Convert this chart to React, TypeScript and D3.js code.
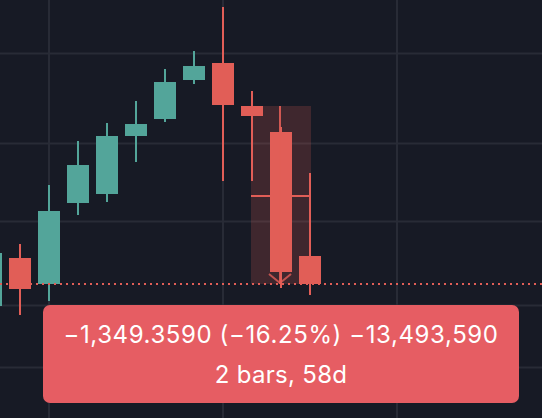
import * as d3 from "d3";

const WIDTH = 542;
const HEIGHT = 418;

// monthly bars (index 0 is partly off the left edge)
const months = ["Jan", "Feb", "Mar", "Apr", "May", "Jun", "Jul", "Aug", "Sep", "Oct", "Nov", "Dec"];
const opens = [6787.5, 7151.4, 6954.3, 7568.4, 7636.6, 8076.3, 8205.1, 8500.8, 8629.7, 8303.7, 8106.6, 7166.6];
const highs = [7287.9, 7257.5, 7704.8, 8038.4, 8174.8, 8341.6, 8584.2, 8720.6, 9054.2, 8417.4, 8144.5, 7795.8];
const lows = [6742.1, 6719.3, 6825.4, 7477.4, 7575.9, 7879.2, 8182.4, 8470.5, 7735.1, 7735.1, 6924.0, 6870.9];
const closes = [7189.3, 6916.4, 7507.7, 7856.4, 8076.3, 8167.2, 8485.6, 8606.9, 8311.3, 8227.9, 7045.3, 6954.3];

// horizontal grid levels and vertical grid bar positions
const gridPrices = [8703, 8021, 7430, 6793, 6327];
const gridBars = [2, 8, 14];

// measurement: from bar 9 to bar 11
const measureFrom = 9;
const measureTo = 11;
const measureLine1 = "\u22121,349.3590 (\u221216.25%) \u221213,493,590";
const measureLine2 = "2 bars, 58d";

const BG = "#171a25";
const GRID = "#282b36";
const UP = "#53a59a";
const DOWN = "#e15e57";
const LABEL = "#e65d63";

export default function App() {
  const x = d3.scaleLinear().domain([0, 12]).range([-9, 339]);
  const y = d3.scaleLinear().domain([5938.5, 9107.3]).range([HEIGHT, 0]);
  const bodyW = 22;

  const startPrice = opens[measureFrom];
  const endPrice = closes[measureTo];
  const mx0 = x(measureFrom) - 1;
  const mx1 = x(measureTo) + 1;
  const mxc = (x(measureFrom) + x(measureTo)) / 2 - 1;
  const my0 = y(startPrice);
  const my1 = y(endPrice);
  const lastClose = closes[closes.length - 1];

  return (
    <div style={{ position: "fixed", left: 0, top: 0 }}>
      <svg width={WIDTH} height={HEIGHT} style={{ display: "block" }}>
        <rect width={WIDTH} height={HEIGHT} fill={BG} />
        {gridPrices.map((p) => (
          <line key={p} x1={0} x2={WIDTH} y1={Math.round(y(p)) + 0.5} y2={Math.round(y(p)) + 0.5} stroke={GRID} strokeWidth={2} />
        ))}
        {gridBars.map((b) => (
          <line key={b} x1={x(b)} x2={x(b)} y1={0} y2={HEIGHT} stroke={GRID} strokeWidth={2} />
        ))}

        {/* measurement shading */}
        <rect x={mx0} y={my0} width={mx1 - mx0} height={my1 - my0} fill={DOWN} fillOpacity={0.2} />

        {opens.map((o, i) => {
          const c = closes[i];
          const col = c >= o ? UP : DOWN;
          const cx = x(i);
          const top = y(Math.max(o, c));
          const bot = y(Math.min(o, c));
          return (
            <g key={months[i] + i}>
              <rect x={cx - 1} y={y(highs[i])} width={2} height={y(lows[i]) - y(highs[i])} fill={col} />
              <rect x={cx - bodyW / 2} y={top} width={bodyW} height={Math.max(1, bot - top)} fill={col} />
            </g>
          );
        })}

        {/* measurement lines */}
        <line x1={mx0} x2={mx1 - 2} y1={(my0 + my1) / 2 + 1} y2={(my0 + my1) / 2 + 1} stroke={DOWN} strokeWidth={2} />
        <line x1={mxc} x2={mxc} y1={my0} y2={my1} stroke={DOWN} strokeWidth={2} strokeOpacity={0.9} />
        <path d={`M${mxc - 11},${my1 - 10}L${mxc},${my1 - 1}L${mxc + 11},${my1 - 10}`} fill="none" stroke={DOWN} strokeWidth={2} strokeOpacity={0.8} />

        {/* last price line */}
        <line x1={0} x2={WIDTH} y1={y(lastClose)} y2={y(lastClose)} stroke={DOWN} strokeWidth={2} strokeDasharray="2,4" />

        {/* measurement label */}
        <rect x={mxc - 237} y={305} width={476} height={98} rx={7} fill={LABEL} />
        <text x={mxc + 1} y={343} textAnchor="middle" fill="#ffffff" fontFamily="Inter, sans-serif" fontSize={24} letterSpacing={0.6}>
          {measureLine1}
        </text>
        <text x={mxc + 1} y={383} textAnchor="middle" fill="#ffffff" fontFamily="Inter, sans-serif" fontSize={24} letterSpacing={0.3}>
          {measureLine2}
        </text>
      </svg>
    </div>
  );
}
